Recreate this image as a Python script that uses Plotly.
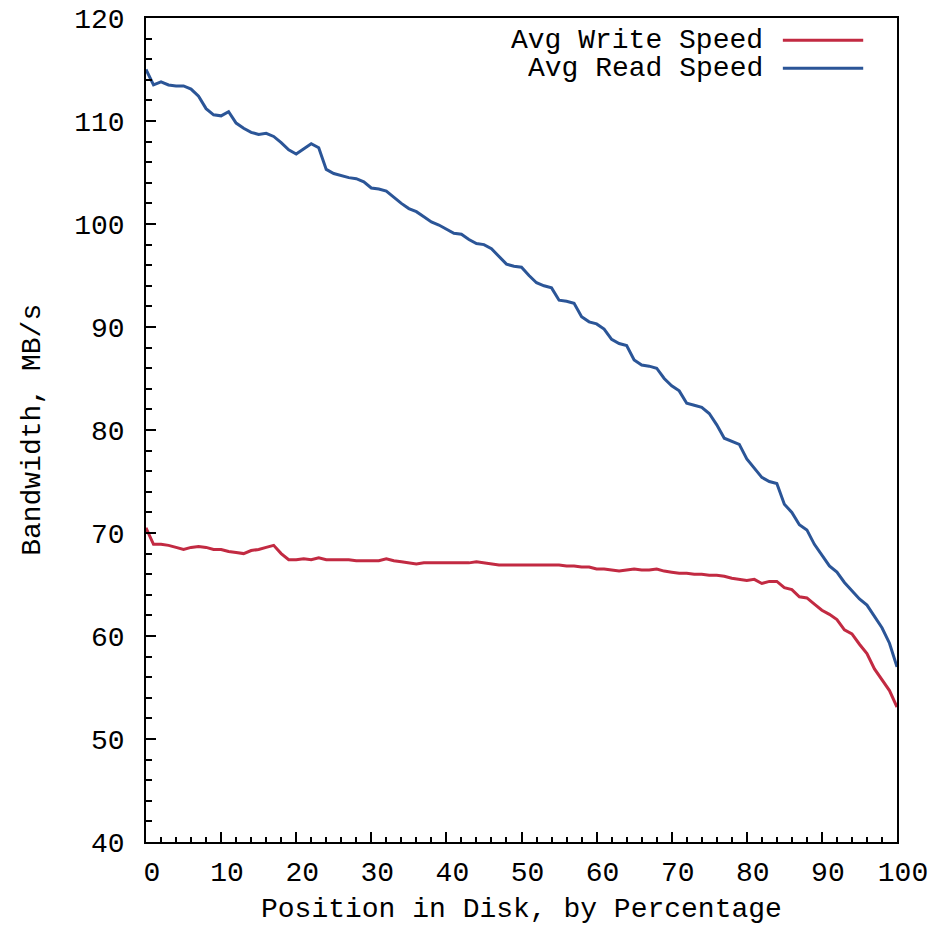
import plotly.graph_objects as go

position = list(range(0, 101))

read_speed = [
    115.0, 113.5, 113.8, 113.5, 113.4, 113.4, 113.1, 112.4, 111.2, 110.6,
    110.5, 110.9, 109.8, 109.3, 108.9, 108.7, 108.8, 108.5, 107.9, 107.2,
    106.8, 107.3, 107.8, 107.4, 105.3, 104.9, 104.7, 104.5, 104.4, 104.1,
    103.5, 103.4, 103.2, 102.6, 102.0, 101.5, 101.2, 100.7, 100.2, 99.9,
    99.5, 99.1, 99.0, 98.5, 98.1, 98.0, 97.6, 96.9, 96.1, 95.9,
    95.8, 95.0, 94.3, 94.0, 93.8, 92.6, 92.5, 92.3, 91.0, 90.5,
    90.3, 89.8, 88.8, 88.4, 88.2, 86.8, 86.3, 86.2, 86.0, 85.0,
    84.3, 83.8, 82.6, 82.4, 82.2, 81.6, 80.5, 79.2, 78.9, 78.6,
    77.2, 76.3, 75.4, 75.0, 74.8, 72.8, 72.0, 70.8, 70.3, 68.9,
    67.9, 66.8, 66.2, 65.2, 64.4, 63.6, 63.0, 61.9, 60.8, 59.3,
    57.0,
]

write_speed = [
    70.5, 68.9, 68.9, 68.8, 68.6, 68.4, 68.6, 68.7, 68.6, 68.4,
    68.4, 68.2, 68.1, 68.0, 68.3, 68.4, 68.6, 68.8, 68.0, 67.4,
    67.4, 67.5, 67.4, 67.6, 67.4, 67.4, 67.4, 67.4, 67.3, 67.3,
    67.3, 67.3, 67.5, 67.3, 67.2, 67.1, 67.0, 67.1, 67.1, 67.1,
    67.1, 67.1, 67.1, 67.1, 67.2, 67.1, 67.0, 66.9, 66.9, 66.9,
    66.9, 66.9, 66.9, 66.9, 66.9, 66.9, 66.8, 66.8, 66.7, 66.7,
    66.5, 66.5, 66.4, 66.3, 66.4, 66.5, 66.4, 66.4, 66.5, 66.3,
    66.2, 66.1, 66.1, 66.0, 66.0, 65.9, 65.9, 65.8, 65.6, 65.5,
    65.4, 65.5, 65.1, 65.3, 65.3, 64.7, 64.5, 63.8, 63.7, 63.1,
    62.5, 62.1, 61.6, 60.6, 60.2, 59.2, 58.3, 56.8, 55.8, 54.7,
    53.1,
]

series_names = ["Avg Write Speed", "Avg Read Speed"]
x_title = "Position in Disk, by Percentage"
y_title = "Bandwidth, MB/s"
x_ticks = [0, 10, 20, 30, 40, 50, 60, 70, 80, 90, 100]
y_ticks = [40, 50, 60, 70, 80, 90, 100, 110, 120]

RED = "#c22a42"
BLUE = "#2b5597"
FONT = "Liberation Mono"
FS = 28

fig = go.Figure()
fig.add_trace(go.Scatter(x=position, y=write_speed, mode="lines", name=series_names[0],
                         line=dict(color=RED, width=3)))
fig.add_trace(go.Scatter(x=position, y=read_speed, mode="lines", name=series_names[1],
                         line=dict(color=BLUE, width=3)))

axis_common = dict(
    showgrid=False, zeroline=False, showline=True, linecolor="black", linewidth=1.5,
    mirror=True, ticks="inside", ticklen=10, tickwidth=1.5, tickcolor="black",
    automargin=False, ticklabeloverflow="allow",
    tickfont=dict(family=FONT, size=FS, color="black"),
)

fig.update_xaxes(range=[0, 100], tickvals=x_ticks, ticktext=[str(v) for v in x_ticks],
                 minor=dict(ticks="inside", ticklen=5, tickwidth=1.5, tickcolor="black", dtick=2),
                 ticklabelstandoff=4, ticklabelshift=6, **axis_common)
fig.update_yaxes(range=[40, 120], tickvals=y_ticks, ticktext=[str(v) for v in y_ticks],
                 minor=dict(ticks="inside", ticklen=6, tickwidth=1.5, tickcolor="black", dtick=2),
                 ticklabelstandoff=14, **axis_common)

annotations = [
    dict(text=x_title, xref="paper", yref="paper", x=0.5, y=-0.0825, xanchor="center",
         yanchor="middle", showarrow=False, font=dict(family=FONT, size=FS, color="black")),
    dict(text=y_title, xref="paper", yref="paper", x=-0.152, y=0.5, xanchor="center",
         yanchor="middle", textangle=-90, showarrow=False,
         font=dict(family=FONT, size=FS, color="black")),
]
shapes = []
legend_rows = [(series_names[0], RED, 0.973), (series_names[1], BLUE, 0.939)]
for name, col, yy in legend_rows:
    annotations.append(dict(text=name, xref="paper", yref="paper", x=0.824, y=yy,
                            xanchor="right", yanchor="middle", showarrow=False, height=28,
                            font=dict(family=FONT, size=FS, color="black")))
    shapes.append(dict(type="line", xref="paper", yref="paper", x0=0.848, x1=0.955,
                       y0=yy, y1=yy, line=dict(color=col, width=3)))

# the page body adds an 8px offset, so the figure is sized 8px smaller
fig.update_layout(
    width=939, height=918,
    margin=dict(l=138, r=50, t=10, b=84, autoexpand=False),
    paper_bgcolor="white", plot_bgcolor="white",
    showlegend=False,
    annotations=annotations, shapes=shapes,
)

fig.write_html("out.html")
